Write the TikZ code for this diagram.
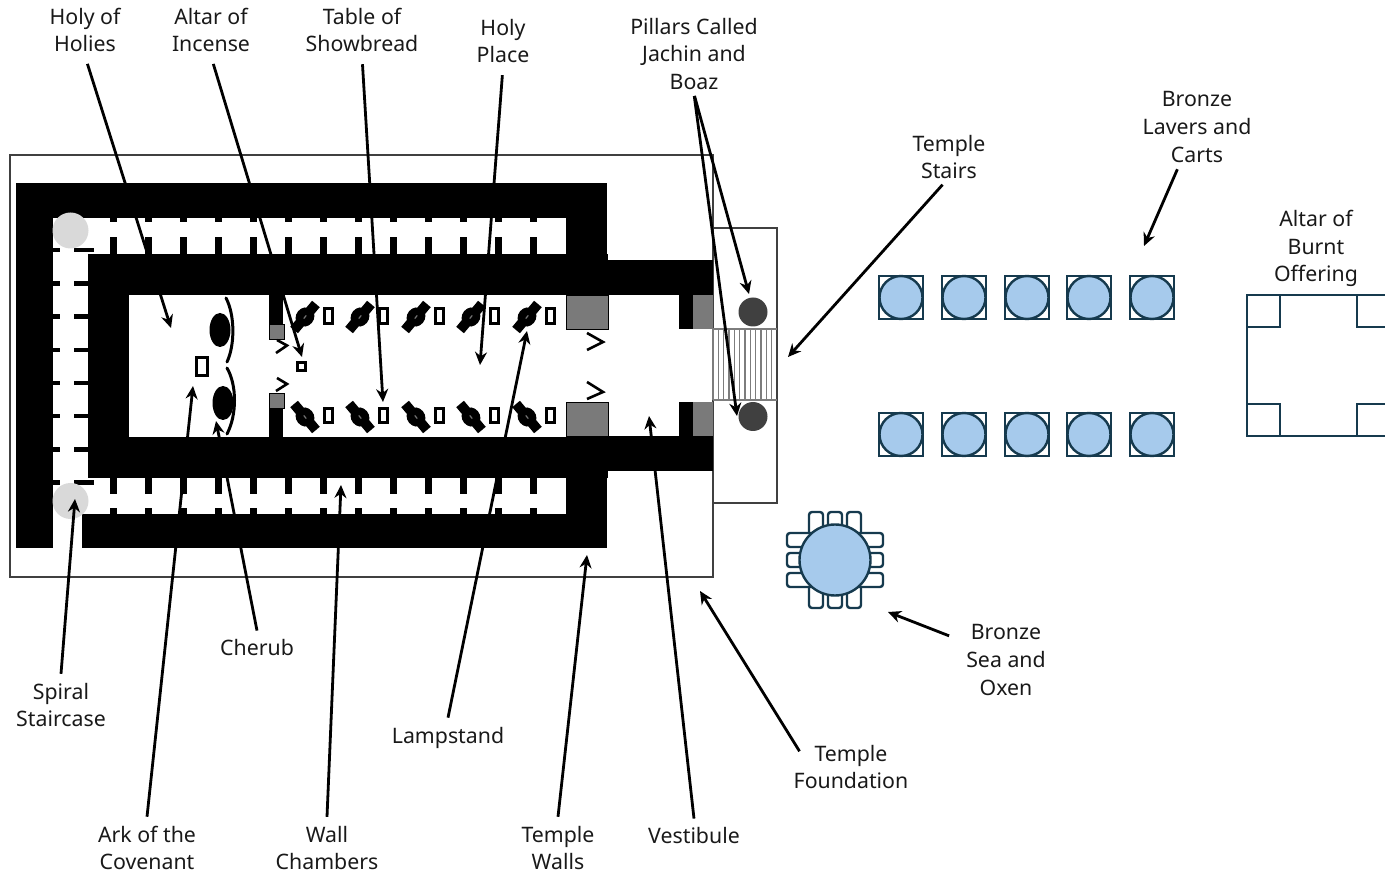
\documentclass[tikz,border=0pt]{standalone}
\usepackage{fontspec}
\setmainfont{Noto Sans}
\usetikzlibrary{arrows.meta}
\definecolor{wallgray}{RGB}{122,122,122}
\definecolor{pillardark}{RGB}{64,64,64}
\definecolor{stairgray}{RGB}{125,125,125}
\definecolor{bronzeblue}{RGB}{166,202,236}
\definecolor{bronzeline}{RGB}{22,58,78}
\tikzset{
  wall/.style={fill=black},
  wall-gray/.style={fill=wallgray, draw=black, line width=0.8pt},
  outline/.style={draw=pillardark, line width=1.3pt},
  item-box/.style={draw=black, fill=white, line width=3pt},
  door-leaf/.style={draw=black, line width=2.6pt},
  wing/.style={draw=black, line width=3pt, line cap=round},
  bronze/.style={draw=bronzeline, line width=2.4pt},
  bronze-fill/.style={bronze, fill=bronzeblue},
  pointer/.style={draw=black, line width=2.8pt, -{Stealth[length=13pt,width=12pt]}},
  pointer-down/.style={pointer, shorten <=8pt},
  label/.style={align=center, inner sep=4pt, text=black!90, font=\fontsize{21.3}{27.6}\selectfont},
  label-far/.style={label, inner ysep=9pt}
}
\begin{document}
\begin{tikzpicture}[x=1pt,y=-1pt]
  \useasboundingbox (0,0) rectangle (1385,874);
  \clip (0,0) rectangle (1385,874);
  % Foundation and stair platform
  \draw[outline] (10,155) rectangle (713,577);
  \draw[outline] (713,228) rectangle (777,503);
  % Stairs
  \foreach \s in {0,...,11} {
    \draw[stairgray, line width=1.3pt] ({713+5.33*\s},329) -- ({713+5.33*\s},400);
  }
  \draw[stairgray, line width=1.3pt] (713,329) -- (777,329) (713,400) -- (777,400);
  % Outer walls
  \fill[wall] (16,183) rectangle (607,218);
  \fill[wall] (16,183) rectangle (53,548);
  \fill[wall] (82,514) rectangle (607,548);
  \fill[wall] (566,183) rectangle (607,254);
  \fill[wall] (566,478) rectangle (607,548);
  % Inner walls
  \fill[wall] (88,254) rectangle (608,295);
  \fill[wall] (88,437) rectangle (608,478);
  \fill[wall] (88,254) rectangle (129,478);
  \fill[wall] (269,295) rectangle (283,325);
  \fill[wall] (269,407) rectangle (283,437);
  % Vestibule walls
  \fill[wall] (608,260) rectangle (713,295);
  \fill[wall] (608,436) rectangle (713,471);
  \fill[wall] (679,295) rectangle (693,329);
  \fill[wall] (679,402) rectangle (693,436);
  % Gray blocks
  \draw[wall-gray] (269.5,324) rectangle (284,339);
  \draw[wall-gray] (269.5,393) rectangle (284,408);
  \draw[wall-gray] (566,295) rectangle (608,329);
  \draw[wall-gray] (566,402) rectangle (608,436);
  \fill[wallgray] (693,295) rectangle (713,329);
  \fill[wallgray] (693,402) rectangle (713,436);
  % Chamber teeth
  \foreach \t in {0,...,12} {
    \fill[wall] ({110+35*\t},218) rectangle ({116.5+35*\t},222);
    \fill[wall] ({110+35*\t},237) rectangle ({116.5+35*\t},254);
    \fill[wall] ({110+35*\t},478) rectangle ({116.5+35*\t},494);
    \fill[wall] ({110+35*\t},508) rectangle ({116.5+35*\t},514);
  }
  \foreach \t in {0,...,7} {
    \fill[wall] (51,{248+33.2*\t}) rectangle (60,{252.5+33.2*\t});
    \fill[wall] (74,{248+33.2*\t}) rectangle (94,{252.5+33.2*\t});
  }
  % Staircase landings
  \fill[black!15] (70.5,230.5) circle (18);
  \fill[black!15] (70.5,501) circle (18);
  % Cherubim, ark, incense altar
  \fill[black] (220,330) ellipse [x radius=10.5, y radius=17];
  \fill[black] (223,403) ellipse [x radius=10.5, y radius=17];
  \draw[wing] (226,298) .. controls (235,315) and (235,345) .. (227,362);
  \draw[wing] (227,368) .. controls (237,385) and (237,415) .. (227,434);
  \draw[item-box] (196.5,357.5) rectangle (207.5,375.5);
  \draw[item-box] (297.5,362.5) rectangle (305.5,370.5);
  % Doors
  \draw[door-leaf] (277,340) -- (287,345.5) -- (276,353);
  \draw[door-leaf] (277,378) -- (287,384) -- (276,391);
  \draw[door-leaf] (587,333) -- (603,342) -- (587,350);
  \draw[door-leaf] (587,382) -- (603,392) -- (587,399);
  % Lampstands and tables
  \foreach \x/\tb in {305/328,360/383,416/439,471/494,527/550} {
    \begin{scope}[shift={(\x,317)},rotate=50]
      \fill[black] (-17,-5) rectangle (-8,5);
      \fill[black] (8,-5) rectangle (17,5);
      \fill[black] (0,0) ellipse [x radius=10, y radius=9];
      \fill[black!55] (-2,0.6) rectangle (2,-0.6);
    \end{scope}
    \begin{scope}[shift={(\x,417)},rotate=-50]
      \fill[black] (-17,-5) rectangle (-8,5);
      \fill[black] (8,-5) rectangle (17,5);
      \fill[black] (0,0) ellipse [x radius=10, y radius=9];
      \fill[black!55] (-2,0.6) rectangle (2,-0.6);
    \end{scope}
    \draw[item-box] ({\tb-4},308.5) rectangle ({\tb+4},323.5);
    \draw[item-box] ({\tb-4},408.5) rectangle ({\tb+4},422.5);
  }
  % Pillars
  \fill[pillardark] (753,312) circle (14.5);
  \fill[pillardark] (753,416.5) circle (14.5);
  % Bronze lavers
  \foreach \x in {879,942,1005,1067,1130} {
    \foreach \y in {276,413} {
      \draw[bronze] (\x,\y) rectangle ({\x+44},{\y+43});
      \draw[bronze-fill] ({\x+22},{\y+21.5}) circle (21.5);
    }
  }
  % Bronze sea and oxen
  \foreach \x in {809,828,847} {
    \draw[bronze, fill=white, rounded corners=3pt] (\x,512) rectangle ({\x+14},608);
  }
  \foreach \y in {533,553,573} {
    \draw[bronze, fill=white, rounded corners=3pt] (787,\y) rectangle (883,{\y+14});
  }
  \draw[bronze-fill] (835,560) circle (35.5);
  % Altar of burnt offering
  \draw[bronze] (1400,295) -- (1247,295) -- (1247,436) -- (1400,436);
  \draw[bronze] (1247,327) -- (1280,327) -- (1280,295);
  \draw[bronze] (1247,404) -- (1280,404) -- (1280,436);
  \draw[bronze] (1400,327) -- (1357,327) -- (1357,295);
  \draw[bronze] (1400,404) -- (1357,404) -- (1357,436);
  % Labels
  \node[label] (holies) at (85,30) {Holy of\\Holies};
  \node[label] (incense) at (211,30) {Altar of\\Incense};
  \node[label] (showbread) at (362,30) {Table of\\Showbread};
  \node[label] (holyplace) at (503,41) {Holy\\Place};
  \node[label] (pillars) at (694,54) {Pillars Called\\Jachin and\\Boaz};
  \node[label] (stairs) at (949,157) {Temple\\Stairs};
  \node[label] (lavers) at (1197,127) {Bronze\\Lavers and\\Carts};
  \node[label] (burnt) at (1316,248.5) {Altar of\\Burnt\\Offering};
  \node[label, inner xsep=17pt] (sea) at (1006,660) {Bronze\\Sea and\\Oxen};
  \node[label, inner xsep=-6pt] (foundation) at (851,767) {Temple\\Foundation};
  \node[label-far] (vestibule) at (694,836) {Vestibule};
  \node[label-far] (walls) at (558,848) {Temple\\Walls};
  \node[label-far] (lampstand) at (448,737.5) {Lampstand};
  \node[label-far] (chambers) at (327,848) {Wall\\Chambers};
  \node[label-far] (ark) at (147,848) {Ark of the\\Covenant};
  \node[label-far] (cherub) at (257,648) {Cherub};
  \node[label-far] (spiral) at (61,705) {Spiral\\Staircase};
  % Arrow ends
  \coordinate (holies-end) at (171,328);
  \coordinate (incense-end) at (302,357);
  \coordinate (showbread-end) at (383,402);
  \coordinate (holyplace-end) at (480,365);
  \coordinate (jachin-end) at (749,294);
  \coordinate (boaz-end) at (737,416);
  \coordinate (stairs-end) at (788,357);
  \coordinate (lavers-end) at (1144,246);
  \coordinate (sea-end) at (888,612);
  \coordinate (foundation-end) at (700,591);
  \coordinate (vestibule-end) at (649,416);
  \coordinate (walls-end) at (587,555);
  \coordinate (lampstand-end) at (527,331);
  \coordinate (chambers-end) at (341,485);
  \coordinate (ark-end) at (193,386);
  \coordinate (cherub-end) at (216,421);
  \coordinate (spiral-end) at (75,499);
  % Arrows
  \draw[pointer-down] (holies.south) -- (holies-end);
  \draw[pointer-down] (incense.south) -- (incense-end);
  \draw[pointer-down] (showbread.south) -- (showbread-end);
  \draw[pointer-down] (holyplace.south) -- (holyplace-end);
  \draw[pointer, shorten <=2pt] (pillars.south) -- (jachin-end);
  \draw[pointer, shorten <=2pt] (pillars.south) -- (boaz-end);
  \draw[pointer, shorten <=2pt] (stairs.259) -- (stairs-end);
  \draw[pointer, shorten <=3pt] (lavers.245) -- (lavers-end);
  \draw[pointer] (sea.157) -- (sea-end);
  \draw[pointer] (foundation.163) -- (foundation-end);
  \draw[pointer] (vestibule.north) -- (vestibule-end);
  \draw[pointer] (walls.north) -- (walls-end);
  \draw[pointer] (lampstand.north) -- (lampstand-end);
  \draw[pointer] (chambers.north) -- (chambers-end);
  \draw[pointer] (ark.north) -- (ark-end);
  \draw[pointer] (cherub.north) -- (cherub-end);
  \draw[pointer] (spiral.north) -- (spiral-end);
\end{tikzpicture}
\end{document}
